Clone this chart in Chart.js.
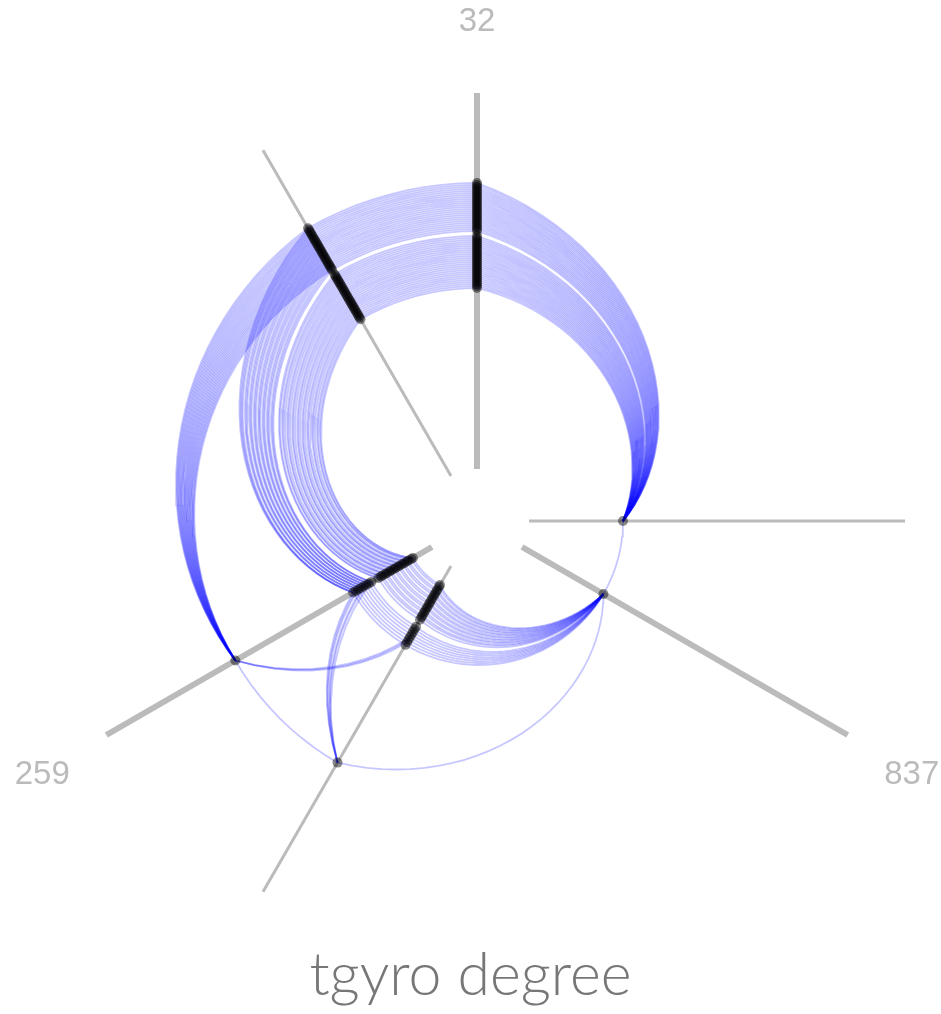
<!DOCTYPE html>
<html>
<head>
<meta charset="utf-8">
<title>tgyro degree</title>
<script src="https://cdn.jsdelivr.net/npm/chart.js@4.4.1/dist/chart.umd.min.js"></script>
<style>
    html, body { margin: 0; padding: 0; background: #ffffff; }
    #wrap { width: 941px; height: 1014px; }
</style>
</head>
<body>
<div id="wrap"><canvas id="hive" width="941" height="1014"></canvas></div>
<script>
// ==========================================
// DATA (angles in degrees, counter-clockwise from 3 o'clock)
// ==========================================
const axisLabels = ['32', '837', '259'];
const axisAngles = [90, 330, 210];      // labelled (thick) axes
const copyAngles = [120, 0, 240];       // thin copies used for edges inside a group
const axisStart = 52;
const axisEnd = 428;
const labelRadius = 502;

// node radii
const topOuter = [290, 292, 294, 296, 298, 300, 302, 304, 306, 308, 310, 312, 314,
                  316, 318, 320, 322, 324, 326, 328, 330, 332, 334, 336, 338];
const topInner = [233, 235, 237, 239, 241, 243, 245, 247, 249, 251, 253, 255, 257, 259,
                  261, 263, 265, 267, 269, 271, 273, 275, 277, 279, 281, 283, 285];
const hubNode = 146;
const farNode = 279;
const midNodes = [122, 125, 128, 131, 134, 137, 140, 143];
const coreNodes = [74, 76, 79, 81, 84, 86, 89, 91, 94, 96, 99, 101, 104, 106, 109, 111, 114];

// which mid / core node each top node links to
const outerToMid = [0, 0, 0, 1, 1, 1, 2, 2, 2, 3, 3, 3, 4, 4, 4, 5, 5, 5, 6, 6, 6, 7, 7, 7, 7];
const innerToCore = [0, 0, 1, 1, 2, 3, 3, 4, 5, 5, 6, 7, 7, 8, 9, 9, 10, 11, 11, 12, 13, 13, 14, 15, 15, 16, 16];
const farToMidCopy = [4, 5, 6];
const farCopyToMid = [0, 2, 3, 5, 6, 7];

document.addEventListener('DOMContentLoaded', () => {

    const rad = d => d * Math.PI / 180;
    const toXY = (deg, r) => ({ x: r * Math.cos(rad(deg)), y: r * Math.sin(rad(deg)) });

    // edge drawn as a polar sweep between the two nodes (short way round)
    const curve = (a1, r1, a2, r2) => {
        const d = ((a2 - a1 + 540) % 360) - 180;
        const steps = Math.max(2, Math.ceil(Math.abs(d) / 3));
        const pts = [];
        for (let i = 0; i <= steps; i++) {
            const t = i / steps;
            pts.push(toXY(a1 + d * t, r1 + (r2 - r1) * t));
        }
        return pts;
    };

    const [TOP, HUB, LOW] = axisAngles;
    const [TOPc, HUBc, LOWc] = copyAngles;
    const topAll = [...topOuter, ...topInner];

    const edges = [];
    const link = (a1, r1, a2, r2) => edges.push(curve(a1, r1, a2, r2));

    topAll.forEach(r => link(TOP, r, HUBc, hubNode));                 // 32 -> 837
    topAll.forEach(r => link(TOPc, r, TOP, r));                       // inside 32
    topOuter.forEach(r => link(LOW, farNode, TOPc, r));               // 259 -> 32
    topOuter.forEach((r, i) => link(TOPc, r, LOW, midNodes[outerToMid[i]]));
    topInner.forEach((r, i) => link(TOPc, r, LOW, coreNodes[innerToCore[i]]));
    coreNodes.forEach(r => link(LOW, r, LOWc, r));                    // inside 259
    midNodes.forEach(r => link(LOW, r, LOWc, r));
    coreNodes.forEach(r => link(LOWc, r, HUB, hubNode));              // 259 -> 837
    midNodes.forEach(r => link(LOWc, r, HUB, hubNode));
    farToMidCopy.forEach(i => link(LOW, farNode, LOWc, midNodes[i]));
    farCopyToMid.forEach(i => link(LOWc, farNode, LOW, midNodes[i]));
    link(LOW, farNode, LOWc, farNode);
    link(LOWc, farNode, HUB, hubNode);
    link(HUB, hubNode, HUBc, hubNode);                                // inside 837

    const datasets = [];

    // axes
    axisAngles.forEach(a => datasets.push({
        data: [toXY(a, axisStart), toXY(a, axisEnd)],
        showLine: true, borderColor: '#bbbbbb', borderWidth: 6,
        borderCapStyle: 'butt', pointRadius: 0, order: 3
    }));
    copyAngles.forEach(a => datasets.push({
        data: [toXY(a, axisStart), toXY(a, axisEnd)],
        showLine: true, borderColor: '#bbbbbb', borderWidth: 3,
        borderCapStyle: 'butt', pointRadius: 0, order: 3
    }));

    // edges
    edges.forEach(pts => datasets.push({
        data: pts, showLine: true, tension: 0,
        borderColor: 'rgba(0, 0, 255, 0.22)', borderWidth: 1.8,
        pointRadius: 0, order: 2
    }));

    // nodes
    const lowNodes = [farNode, ...midNodes, ...coreNodes];
    const nodeSets = [
        [TOP, topAll], [TOPc, topAll],
        [HUB, [hubNode]], [HUBc, [hubNode]],
        [LOW, lowNodes], [LOWc, lowNodes]
    ];
    nodeSets.forEach(([a, list]) => datasets.push({
        data: list.map(r => toXY(a, r)),
        showLine: false, pointRadius: 5, pointBorderWidth: 0,
        pointBackgroundColor: 'rgba(0, 0, 0, 0.45)', order: 1
    }));

    const axisLabelPlugin = {
        id: 'axisLabels',
        afterDatasetsDraw(chart) {
            const { ctx, scales: { x, y } } = chart;
            ctx.save();
            ctx.font = '33px "Liberation Sans", Arial, sans-serif';
            ctx.fillStyle = '#bbbbbb';
            ctx.textAlign = 'center';
            ctx.textBaseline = 'middle';
            axisLabels.forEach((label, i) => {
                const p = toXY(axisAngles[i], labelRadius);
                ctx.fillText(label, x.getPixelForValue(p.x), y.getPixelForValue(p.y) + 3);
            });
            ctx.restore();
        }
    };

    new Chart(document.getElementById('hive'), {
        type: 'scatter',
        data: { datasets },
        options: {
            responsive: false,
            animation: false,
            events: [],
            layout: { padding: 0, autoPadding: false },
            scales: {
                x: { type: 'linear', display: false, min: -477, max: 464 },
                y: { type: 'linear', display: false, min: -419.2, max: 521 }
            },
            plugins: {
                legend: { display: false },
                tooltip: { enabled: false },
                title: {
                    display: true, position: 'bottom', text: 'tgyro degree',
                    color: '#777777',
                    font: { family: 'Lato', size: 59, weight: 300 },
                    padding: { top: 0, bottom: 3 }
                }
            }
        },
        plugins: [axisLabelPlugin]
    });
});
</script>
</body>
</html>
